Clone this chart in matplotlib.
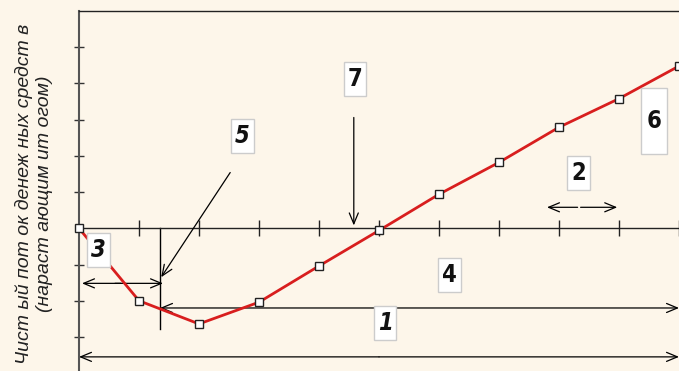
import matplotlib.pyplot as plt
from matplotlib.patches import Rectangle

# cumulative net cash flow by period
periods = [0, 1, 2, 3, 4, 5, 6, 7, 8, 9, 10]
cash_flow = [0, -2.0, -2.64, -2.04, -1.04, -0.06, 0.94, 1.82, 2.79, 3.58, 4.48]

ylabel_lines = ["Чист ый пот ок денеж ных средст в", "(нараст ающим ит огом)"]

BG = '#fdf6ea'
W, H = 679, 371

fig = plt.figure(figsize=(W / 100, H / 100), dpi=100, facecolor=BG)
ax = fig.add_axes([79 / W, 0, 1 - 79 / W, 1 - 11 / H], facecolor=BG)
ax.set_xlim(0, 10)
ax.set_ylim(-3.94, 6)

ax.spines['right'].set_visible(False)
ax.spines['bottom'].set_position(('data', 0))
for s in ['top', 'bottom']:
    ax.spines[s].set_color('#222222')
    ax.spines[s].set_linewidth(1.0)
ax.spines['left'].set_color('#555555')
ax.spines['left'].set_linewidth(1.5)

ax.set_xticks(periods[1:])
ax.set_yticks([-3, -2, -1, 1, 2, 3, 4, 5])
ax.tick_params(axis='x', direction='inout', length=11, width=1, labelbottom=False, color='#222222')
ax.tick_params(axis='y', direction='inout', length=7, width=1, labelleft=False, color='#333333')
ax.tick_params(top=False, right=False)

ax.plot(periods, cash_flow, color='#d81e1e', lw=2, marker='s', ms=5.5,
        mfc='white', mec='#222222', mew=1, clip_on=False, zorder=5)

# vertical marker of payback point
xp = 1.35
ax.plot([xp, xp], [0, -2.78], color='black', lw=1)

head = '->,head_length=0.6,head_width=0.25'
arr = dict(arrowstyle=head, color='black', lw=0.9, mutation_scale=13, shrinkA=0, shrinkB=0)


def arrow(x0, y0, x1, y1):
    ax.annotate('', xy=(x1, y1), xytext=(x0, y0), arrowprops=arr)


arrow(0.7, -1.52, 0.05, -1.52)
arrow(0.6, -1.52, xp + 0.05, -1.52)
arrow(5, -2.2, xp, -2.2)
arrow(5, -2.2, 10, -2.2)
arrow(5, -3.55, 0, -3.55)
arrow(5, -3.55, 10, -3.55)
arrow(2.52, 1.54, 1.37, -1.35)
arrow(4.58, 3.06, 4.58, 0.08)
arrow(8.31, 0.58, 7.8, 0.58)
arrow(8.36, 0.58, 8.97, 0.58)

labels = ['1', '2', '3', '4', '5', '6', '7']
label_pos = [(5.1, -2.62), (8.33, 1.54), (0.32, -0.6), (6.17, -1.29),
             (2.72, 2.56), (9.58, 2.97), (4.6, 4.13)]
italic_labels = ['1', '3', '5']
for lab, (x, y) in zip(labels, label_pos):
    w = 0.43 if lab == '6' else 0.38
    h = 1.82 if lab == '6' else 0.94
    ax.add_patch(Rectangle((x - w / 2, y - h / 2), w, h, facecolor='white',
                           edgecolor='#cccccc', lw=1, zorder=6))
    ax.text(x, y, lab, ha='center', va='center', fontsize=17, fontweight='bold',
            fontstyle='italic' if lab in italic_labels else 'normal',
            fontstretch='condensed',
            family=['Liberation Sans Narrow', 'DejaVu Sans'],
            color='#111111', zorder=7)

fig.text(34 / W, 1 - 194 / H, '\n'.join(ylabel_lines), rotation=90, ha='center', va='center',
         fontsize=14, fontstyle='italic', family=['Liberation Sans', 'DejaVu Sans'],
         color='#222222', linespacing=1.3)

fig.savefig('out.png', dpi=100, facecolor=BG)
